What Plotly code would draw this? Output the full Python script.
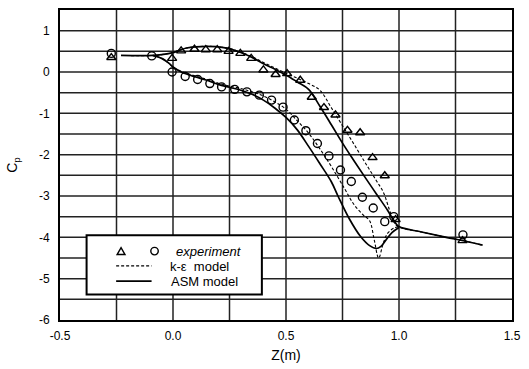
import plotly.graph_objects as go

# ---- data ----
tri_x = [-0.273, -0.004, 0.036, 0.095, 0.145, 0.196, 0.246, 0.298, 0.346, 0.400, 0.454, 0.505, 0.563, 0.614, 0.668, 0.719, 0.772, 0.828, 0.883, 0.937, 0.985, 1.281]
tri_y = [0.35, 0.33, 0.51, 0.55, 0.54, 0.54, 0.50, 0.45, 0.33, 0.05, -0.06, -0.04, -0.20, -0.61, -0.86, -1.04, -1.41, -1.47, -2.07, -2.51, -3.57, -4.08]

cir_x = [-0.273, -0.094, -0.004, 0.054, 0.109, 0.163, 0.215, 0.273, 0.327, 0.382, 0.436, 0.487, 0.537, 0.588, 0.639, 0.690, 0.741, 0.789, 0.838, 0.886, 0.937, 0.977, 1.283]
cir_y = [0.45, 0.39, 0.00, -0.11, -0.18, -0.28, -0.36, -0.42, -0.48, -0.56, -0.68, -0.85, -1.16, -1.42, -1.73, -2.03, -2.37, -2.65, -3.03, -3.29, -3.62, -3.50, -3.94]

# ASM model (solid)
asm_up_x = [-0.23, -0.09, -0.05, 0.0, 0.03, 0.06, 0.10, 0.15, 0.20, 0.25, 0.30, 0.35, 0.40, 0.45, 0.50, 0.55, 0.60, 0.65, 0.70, 0.75, 0.80, 0.85, 0.90, 0.95, 0.98, 1.00, 1.10, 1.20, 1.30, 1.37]
asm_up_y = [0.40, 0.40, 0.42, 0.47, 0.53, 0.58, 0.61, 0.62, 0.61, 0.56, 0.47, 0.35, 0.20, 0.07, -0.07, -0.24, -0.42, -0.83, -1.27, -1.72, -2.14, -2.55, -2.95, -3.35, -3.62, -3.74, -3.87, -3.99, -4.10, -4.19]
asm_lo_x = [-0.09, -0.05, -0.02, 0.0, 0.03, 0.06, 0.10, 0.15, 0.20, 0.25, 0.30, 0.35, 0.40, 0.45, 0.50, 0.55, 0.60, 0.65, 0.70, 0.73, 0.78, 0.83, 0.87, 0.90, 0.92, 0.94, 0.97, 1.00]
asm_lo_y = [0.40, 0.33, 0.22, 0.12, 0.02, -0.05, -0.12, -0.20, -0.30, -0.37, -0.44, -0.54, -0.68, -0.87, -1.10, -1.40, -1.80, -2.22, -2.65, -3.00, -3.55, -3.98, -4.20, -4.27, -4.22, -4.08, -3.88, -3.76]

# k-epsilon model (dashed)
ke_up_x = [-0.23, -0.09, -0.05, 0.0, 0.03, 0.06, 0.10, 0.15, 0.20, 0.25, 0.30, 0.35, 0.40, 0.45, 0.50, 0.55, 0.60, 0.65, 0.70, 0.75, 0.80, 0.85, 0.90, 0.93, 0.966, 0.99, 1.10, 1.20, 1.30, 1.37]
ke_up_y = [0.40, 0.40, 0.42, 0.47, 0.53, 0.58, 0.61, 0.62, 0.61, 0.57, 0.48, 0.37, 0.23, 0.10, -0.03, -0.15, -0.28, -0.44, -0.86, -1.30, -1.74, -2.19, -2.63, -2.90, -3.46, -3.72, -3.87, -3.99, -4.10, -4.19]
ke_lo_x = [-0.09, -0.05, -0.02, 0.0, 0.03, 0.06, 0.10, 0.15, 0.20, 0.25, 0.30, 0.35, 0.40, 0.45, 0.50, 0.55, 0.60, 0.65, 0.70, 0.76, 0.80, 0.84, 0.87, 0.89, 0.91, 0.93, 0.95, 0.98, 1.00]
ke_lo_y = [0.40, 0.33, 0.22, 0.12, 0.03, -0.03, -0.10, -0.18, -0.27, -0.34, -0.40, -0.48, -0.58, -0.72, -0.90, -1.18, -1.48, -1.86, -2.28, -2.83, -3.20, -3.45, -3.60, -4.05, -4.50, -4.15, -3.90, -3.77, -3.75]

x_ticks = [-0.5, 0.0, 0.5, 1.0, 1.5]
x_tick_text = ["-0.5", "0.0", "0.5", "1.0", "1.5"]
x_grid = [-0.25, 0.0, 0.25, 0.5, 0.75, 1.0, 1.25]
y_ticks = [1, 0, -1, -2, -3, -4, -5, -6]
y_tick_text = ["1", "0", "-1", "-2", "-3", "-4", "-5", "-6"]
y_grid = [1, 0.5, 0, -0.5, -1, -1.5, -2, -2.5, -3, -3.5, -4, -4.5, -5, -5.5]

FONT = "Liberation Sans, Arial, sans-serif"
GRID = "#222222"

fig = go.Figure()

# grid lines drawn as a trace built from the grid arrays
gx_x, gx_y = [], []
for gx in x_grid:
    gx_x += [gx, gx, None]
    gx_y += [-6, 1.5, None]
for gy in y_grid:
    gx_x += [-0.5, 1.5, None]
    gx_y += [gy, gy, None]
fig.add_trace(go.Scatter(x=gx_x, y=gx_y, mode="lines", line=dict(color=GRID, width=1.5),
                         showlegend=False, hoverinfo="skip", connectgaps=False))

for xs, ys in [(ke_up_x, ke_up_y), (ke_lo_x, ke_lo_y)]:
    fig.add_trace(go.Scatter(x=xs, y=ys, mode="lines", line=dict(color="black", width=1.1, dash="3px,2px"),
                             line_shape="spline", showlegend=False, hoverinfo="skip"))
for xs, ys in [(asm_up_x, asm_up_y), (asm_lo_x, asm_lo_y)]:
    fig.add_trace(go.Scatter(x=xs, y=ys, mode="lines", line=dict(color="black", width=1.7),
                             line_shape="spline", showlegend=False, hoverinfo="skip"))
fig.add_trace(go.Scatter(x=tri_x, y=tri_y, mode="markers",
                         marker=dict(symbol="triangle-up-open", size=8, color="black", line=dict(width=1.4)),
                         showlegend=False))
fig.add_trace(go.Scatter(x=cir_x, y=cir_y, mode="markers",
                         marker=dict(symbol="circle-open", size=8, color="black", line=dict(width=1.4)),
                         showlegend=False))

# manual legend (paper coordinates)
def px_x(p):
    return (p - 60) / 459.0

def px_y(p):
    return (323 - p) / 315.0

fig.add_shape(type="rect", xref="paper", yref="paper", x0=px_x(87), x1=px_x(265), y0=px_y(297), y1=px_y(237),
              line=dict(color="black", width=2), fillcolor="white", layer="above")
fig.add_shape(type="line", xref="paper", yref="paper", x0=px_x(117), x1=px_x(153), y0=px_y(268), y1=px_y(268),
              line=dict(color="black", width=1.1, dash="3px,2px"), layer="above")
fig.add_shape(type="line", xref="paper", yref="paper", x0=px_x(117), x1=px_x(153), y0=px_y(283.5), y1=px_y(283.5),
              line=dict(color="black", width=1.7), layer="above")
tcx, tcy = 122, 253
fig.add_shape(type="path", xref="paper", yref="paper",
              path=f"M {px_x(tcx-4)},{px_y(tcy+3.5)} L {px_x(tcx+4)},{px_y(tcy+3.5)} L {px_x(tcx)},{px_y(tcy-3.5)} Z",
              line=dict(color="black", width=1.4), layer="above")
ccx, ccy = 156, 253
fig.add_shape(type="circle", xref="paper", yref="paper",
              x0=px_x(ccx-3.8), x1=px_x(ccx+3.8), y0=px_y(ccy+3.8), y1=px_y(ccy-3.8),
              line=dict(color="black", width=1.4), layer="above")
fig.add_annotation(xref="paper", yref="paper", x=px_x(176), y=px_y(253), text="<i>experiment</i>", showarrow=False,
                   font=dict(family=FONT, size=13, color="black"), xanchor="left", yanchor="middle")
fig.add_annotation(xref="paper", yref="paper", x=px_x(170), y=px_y(269), text="k-ε  model", showarrow=False,
                   font=dict(family=FONT, size=13, color="black"), xanchor="left", yanchor="middle")
fig.add_annotation(xref="paper", yref="paper", x=px_x(171), y=px_y(284), text="ASM model", showarrow=False,
                   font=dict(family=FONT, size=13, color="black"), xanchor="left", yanchor="middle")

fig.update_layout(
    width=529, height=369,
    margin=dict(l=60, r=10, t=8, b=46),
    paper_bgcolor="white", plot_bgcolor="white",
    font=dict(family=FONT, size=12, color="black"),
    showlegend=False,
)
fig.update_xaxes(range=[-0.5, 1.5], tickmode="array", tickvals=x_ticks, ticktext=x_tick_text,
                 showline=True, linecolor="black", linewidth=2, mirror=True,
                 showgrid=False, zeroline=False, ticks="", ticklabelstandoff=4,
                 title=dict(text="Z(m)", font=dict(size=14), standoff=8))
fig.update_yaxes(range=[-6, 1.5], tickmode="array", tickvals=y_ticks, ticktext=y_tick_text,
                 showline=True, linecolor="black", linewidth=2, mirror=True,
                 showgrid=False, zeroline=False, ticks="", ticklabelstandoff=6,
                 title=dict(text="C<sub>p</sub>", font=dict(size=14), standoff=18))

fig.write_html("out.html")
